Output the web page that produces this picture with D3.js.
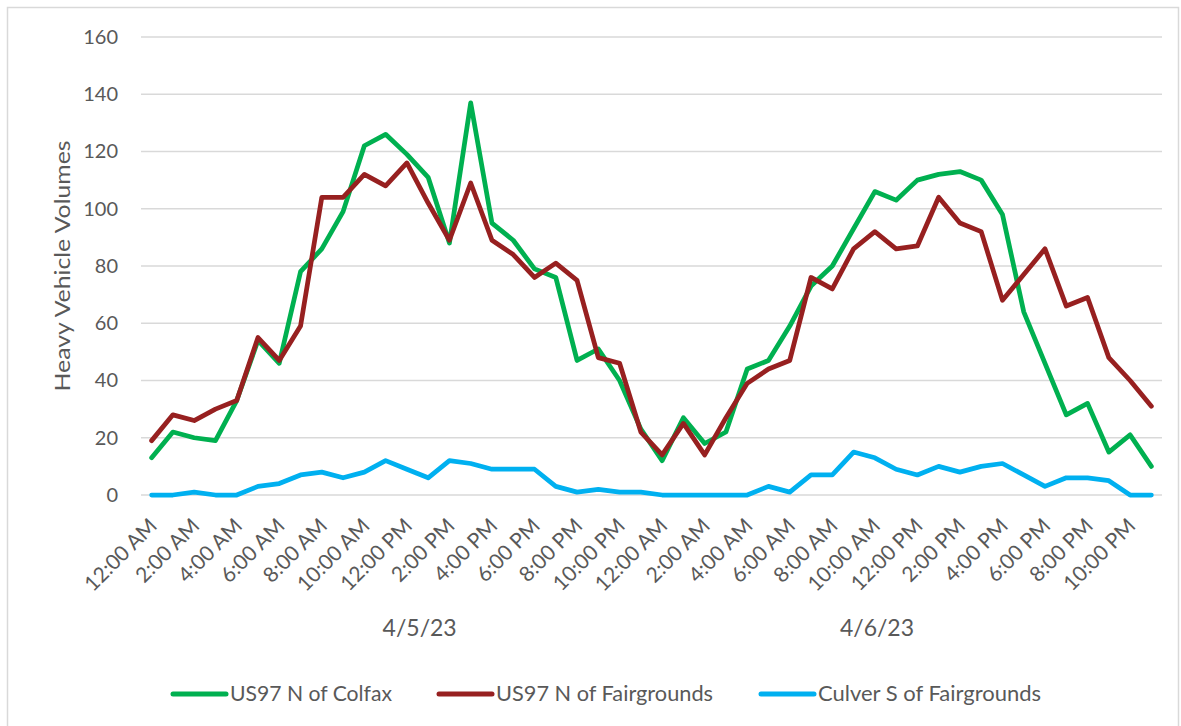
<!DOCTYPE html>
<html>
<head>
<meta charset="utf-8">
<script src="https://cdn.jsdelivr.net/npm/d3@7"></script>
<style>
  html, body { margin: 0; padding: 0; background: #fff; }
  svg { display: block; font-family: Lato, "Open Sans", "Liberation Sans", sans-serif; }
</style>
</head>
<body>
<svg id="chart" width="1181" height="726"></svg>
<script>
// Hourly time-of-day labels for each of the two days
const hours = ["12:00 AM","1:00 AM","2:00 AM","3:00 AM","4:00 AM","5:00 AM","6:00 AM","7:00 AM",
  "8:00 AM","9:00 AM","10:00 AM","11:00 AM","12:00 PM","1:00 PM","2:00 PM","3:00 PM",
  "4:00 PM","5:00 PM","6:00 PM","7:00 PM","8:00 PM","9:00 PM","10:00 PM","11:00 PM"];
const days = ["4/5/23", "4/6/23"];

// Hourly heavy vehicle counts, 48 hours (4/5/23 then 4/6/23)
const colfax = [13,22,20,19,33,54,46,78,86,99,122,126,119,111,88,137,95,89,79,76,47,51,40,23,
  12,27,18,22,44,47,59,73,80,93,106,103,110,112,113,110,98,64,46,28,32,15,21,10];
const fairgrounds = [19,28,26,30,33,55,47,59,104,104,112,108,116,102,89,109,89,84,76,81,75,48,46,22,
  14,25,14,27,39,44,47,76,72,86,92,86,87,104,95,92,68,77,86,66,69,48,40,31];
const culver = [0,0,1,0,0,3,4,7,8,6,8,12,9,6,12,11,9,9,9,3,1,2,1,1,
  0,0,0,0,0,3,1,7,7,15,13,9,7,10,8,10,11,7,3,6,6,5,0,0];

const seriesNames = ["US97 N of Colfax", "US97 N of Fairgrounds", "Culver S of Fairgrounds"];
const seriesColors = ["#00b050", "#972020", "#00b0f0"];
const seriesValues = [colfax, fairgrounds, culver];
const yTicks = [0, 20, 40, 60, 80, 100, 120, 140, 160];
const yTitle = "Heavy Vehicle Volumes";

const svg = d3.select("#chart");
const textColor = "#595959";

// Outer chart frame
svg.append("rect")
  .attr("x", 7.5).attr("y", 7.5)
  .attr("width", 1171).attr("height", 740)
  .attr("fill", "none").attr("stroke", "#d9d9d9").attr("stroke-width", 1.5);

const plot = { left: 141, right: 1162, top: 37, bottom: 495 };

const idx = d3.range(colfax.length);
const x = d3.scalePoint().domain(idx).range([plot.left, plot.right]).padding(0.5);
const y = d3.scaleLinear().domain([0, 160]).range([plot.bottom, plot.top]);

// Horizontal gridlines
svg.append("g").selectAll("line").data(yTicks).join("line")
  .attr("x1", plot.left).attr("x2", plot.right)
  .attr("y1", d => y(d)).attr("y2", d => y(d))
  .attr("stroke", "#d9d9d9").attr("stroke-width", 1.5);

// Y axis labels
const yAxis = d3.axisLeft(y).tickValues(yTicks).tickSize(0).tickPadding(0);
svg.append("g")
  .attr("transform", `translate(${plot.left - 23},0)`)
  .call(yAxis)
  .call(g => g.select(".domain").remove())
  .call(g => g.selectAll("text")
    .attr("fill", textColor)
    .attr("font-size", 20)
    .attr("font-family", "Lato, sans-serif"));

// Y axis title, centred on the middle of the value range
svg.append("text")
  .attr("transform", `translate(61,${y(80)}) rotate(-90)`)
  .attr("text-anchor", "middle")
  .attr("dominant-baseline", "central")
  .attr("fill", textColor)
  .attr("font-size", 21)
  .attr("textLength", 251)
  .attr("lengthAdjust", "spacingAndGlyphs")
  .text(yTitle);

// X axis: every second hour, rotated
const labelIdx = idx.filter(i => i % 2 === 0);
const xAxis = d3.axisBottom(x).tickValues(labelIdx)
  .tickFormat(i => hours[i % 24]).tickSize(0).tickPadding(0);
svg.append("g")
  .attr("transform", `translate(0,${plot.bottom})`)
  .call(xAxis)
  .call(g => g.select(".domain").remove())
  .call(g => g.selectAll("text")
    .attr("fill", textColor)
    .attr("font-size", 21)
    .attr("font-family", "Lato, sans-serif")
    .attr("text-anchor", "end")
    .attr("y", 0).attr("dy", "0.35em")
    .attr("transform", "translate(1,27) rotate(-45)"));

// Date group labels
const dayCenters = [12.6, 34.1];
svg.append("g").selectAll("text").data(days).join("text")
  .attr("x", (d, i) => x(0) + dayCenters[i] * x.step())
  .attr("y", 636)
  .attr("text-anchor", "middle")
  .attr("fill", textColor)
  .attr("font-size", 23)
  .text(d => d);

// Series lines
const line = d3.line().x((d, i) => x(i)).y(d => y(d));
svg.append("g").selectAll("path").data(seriesValues).join("path")
  .attr("d", d => line(d))
  .attr("fill", "none")
  .attr("stroke", (d, i) => seriesColors[i])
  .attr("stroke-width", 4.75)
  .attr("stroke-linejoin", "round")
  .attr("stroke-linecap", "round");

// Legend
const legendItems = [
  { x: 173, w: 162 },
  { x: 439, w: 217 },
  { x: 761, w: 223 }
];
const legendY = 694;
const lg = svg.append("g").selectAll("g").data(seriesNames).join("g")
  .attr("transform", (d, i) => `translate(${legendItems[i].x},${legendY})`);
lg.append("line")
  .attr("x1", 0).attr("x2", 53).attr("y1", 0).attr("y2", 0)
  .attr("stroke", (d, i) => seriesColors[i])
  .attr("stroke-width", 5)
  .attr("stroke-linecap", "round");
lg.append("text")
  .attr("x", 57).attr("y", 0)
  .attr("dy", "0.35em")
  .attr("fill", textColor)
  .attr("font-size", 21)
  .attr("textLength", (d, i) => legendItems[i].w)
  .attr("lengthAdjust", "spacingAndGlyphs")
  .text(d => d);
</script>
</body>
</html>
